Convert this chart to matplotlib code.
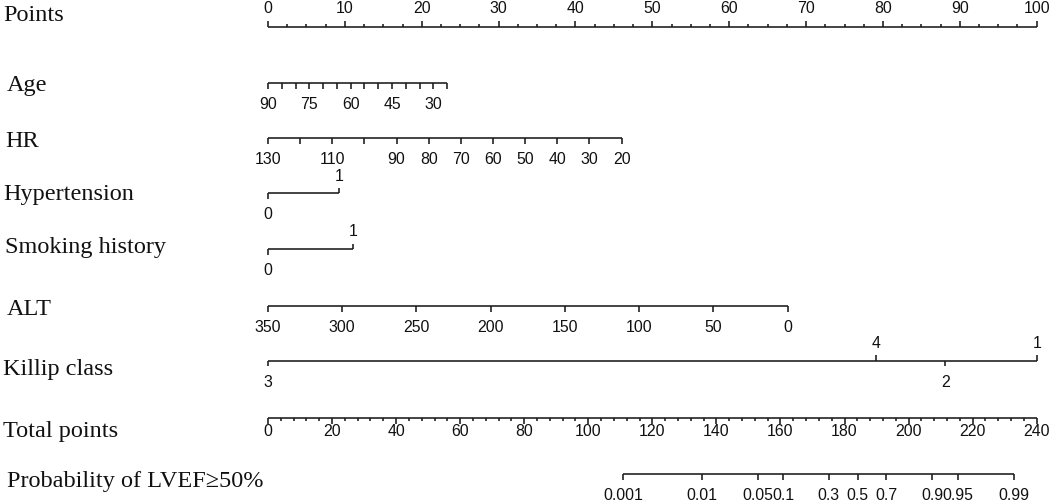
import numpy as np
import matplotlib
matplotlib.use("Agg")
import matplotlib.pyplot as plt
from matplotlib.transforms import blended_transform_factory

# ---------------- data ----------------
row_names = ["Points", "Age", "HR", "Hypertension", "Smoking history",
             "ALT", "Killip class", "Total points", "Probability of LVEF\u226550%"]

# Points scale
points_major = list(range(0, 101, 10))
points_minor = list(np.arange(0, 100.01, 2.5))

# Age: value range and points at the ends
age_ticks = list(range(90, 24, -5))
age_labels = [90, 75, 60, 45, 30]
age_ends = (90, 25)
age_end_points = (0.0, 23.3)

# HR
hr_ticks = list(range(130, 19, -10))
hr_labels = [130, 110, 90, 80, 70, 60, 50, 40, 30, 20]
hr_ends = (130, 20)
hr_end_points = (0.0, 46.0)

# Hypertension (categorical)
htn_levels = ["0", "1"]
htn_points = [0.0, 9.23]
htn_side = ["down", "up"]

# Smoking history (categorical)
smk_levels = ["0", "1"]
smk_points = [0.0, 11.05]
smk_side = ["down", "up"]

# ALT
alt_ticks = list(range(350, -1, -50))
alt_ends = (350, 0)
alt_end_points = (0.0, 67.6)

# Killip class (categorical)
killip_levels = ["3", "4", "2", "1"]
killip_points = [0.0, 79.1, 88.1, 100.0]
killip_side = ["down", "up", "down", "up"]

# Total points
total_max = 240
total_major = list(range(0, 241, 20))
total_minor = list(range(0, 241, 4))

# Probability
prob_ticks = [0.001, 0.01, 0.05, 0.1, 0.3, 0.5, 0.7, 0.9, 0.95, 0.99]
prob_labels = ["0.001", "0.01", "0.05", "0.1", "0.3", "0.5", "0.7", "0.9", "0.95", "0.99"]
total_at_p50 = 184.1
total_per_logit = 10.6

# ---------------- helpers ----------------
def lin_points(v, ends, pts):
    return pts[0] + (np.asarray(v, float) - ends[0]) * (pts[1] - pts[0]) / (ends[1] - ends[0])

def total_to_x(tp):
    return np.asarray(tp, float) * 100.0 / total_max

def prob_to_x(p):
    p = np.asarray(p, float)
    return total_to_x(total_at_p50 + total_per_logit * np.log(p / (1 - p)))

W, H = 1053, 501
fig = plt.figure(figsize=(W / 100, H / 100), dpi=100)
ax = fig.add_axes([268 / W, 0, 768.7 / W, 1])
ax.set_xlim(0, 100)
ax.set_ylim(H, 0)
ax.axis("off")

LC = "#1a1a1a"
LW = 1.15
TICK_FONT = dict(family=["Liberation Sans", "DejaVu Sans"], fontsize=11.4, color="#111111")
LAB_FONT = dict(family=["Liberation Serif", "DejaVu Serif"], fontsize=17.5, color="#111111")

def hline(x0, x1, y):
    ax.plot([x0, x1], [y, y], color=LC, lw=LW, solid_capstyle="butt", clip_on=False)

def tick(x, y, side, length):
    d = -length if side == "up" else length
    ax.plot([x, x], [y, y + d], color=LC, lw=LW, solid_capstyle="butt", clip_on=False)

def tlabel(x, y, text, side, up_off=12.5, down_off=26):
    yy = y - up_off if side == "up" else y + down_off
    ax.text(x, yy, text, ha="center", va="baseline", **TICK_FONT)

# rows' line y (pixels)
y_points, y_age, y_hr, y_htn, y_smk, y_alt, y_kil, y_tot, y_prob = \
    27.3, 83.3, 138.3, 193.3, 249.0, 305.7, 360.7, 418.0, 474.0

# Points
hline(0, 100, y_points)
for v in points_minor:
    tick(v, y_points, "up", 6 if v in points_major else 3.5)
for v in points_major:
    ax.text(v, y_points - 14, str(v), ha="center", va="baseline", **TICK_FONT)

# Age
ax_age = lin_points(age_ticks, age_ends, age_end_points)
hline(ax_age.min(), ax_age.max(), y_age)
for v, x in zip(age_ticks, ax_age):
    tick(x, y_age, "down", 6)
    if v in age_labels:
        tlabel(x, y_age, str(v), "down")

# HR
x_hr = lin_points(hr_ticks, hr_ends, hr_end_points)
hline(x_hr.min(), x_hr.max(), y_hr)
for v, x in zip(hr_ticks, x_hr):
    tick(x, y_hr, "down", 6)
    if v in hr_labels:
        tlabel(x, y_hr, str(v), "down")

# categorical rows
for levels, pts, sides, y in [(htn_levels, htn_points, htn_side, y_htn),
                              (smk_levels, smk_points, smk_side, y_smk),
                              (killip_levels, killip_points, killip_side, y_kil)]:
    hline(min(pts), max(pts), y)
    for lv, p, s in zip(levels, pts, sides):
        tick(p, y, s, 5.5)
        tlabel(p, y, lv, s)

# ALT
x_alt = lin_points(alt_ticks, alt_ends, alt_end_points)
hline(x_alt.min(), x_alt.max(), y_alt)
for v, x in zip(alt_ticks, x_alt):
    tick(x, y_alt, "down", 6)
    tlabel(x, y_alt, str(v), "down")

# Total points
hline(0, 100, y_tot)
for v in total_minor:
    tick(total_to_x(v), y_tot, "down", 5.5 if v in total_major else 3)
for v in total_major:
    ax.text(total_to_x(v), y_tot + 18, str(v), ha="center", va="baseline", **TICK_FONT)

# Probability
x_prob = prob_to_x(prob_ticks)
hline(x_prob.min(), x_prob.max(), y_prob)
for lab, x in zip(prob_labels, x_prob):
    tick(x, y_prob, "down", 6)
    tlabel(x, y_prob, lab, "down")

# Row names (x in figure pixels, y in data)
trans = blended_transform_factory(fig.transFigure, ax.transData)
name_x = [3, 7, 5, 3, 5, 7, 3, 3, 7]
name_base = [21, 91, 147, 200, 253, 315, 375, 437, 487]
for name, nx, ny in zip(row_names, name_x, name_base):
    ax.text(nx / W, ny, name, transform=trans, ha="left", va="baseline", **LAB_FONT)

fig.savefig("out.png", dpi=100, facecolor="white")
